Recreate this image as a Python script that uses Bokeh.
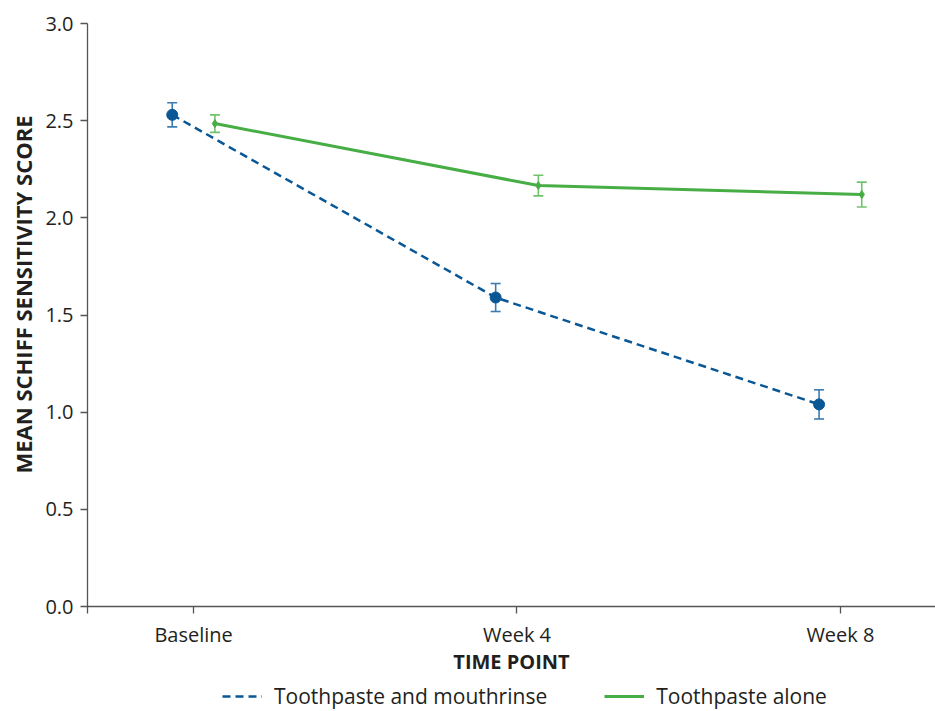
from bokeh.plotting import figure
from bokeh.models import (Range1d, FixedTicker, Whisker, ColumnDataSource, Legend,
                          LegendItem, TeeHead, NumeralTickFormatter, Title)
from bokeh.embed import file_html
from bokeh.resources import INLINE

categories = ["Baseline", "Week 4", "Week 8"]
series_names = ["Toothpaste and mouthrinse", "Toothpaste alone"]
mouthrinse_mean = [2.53, 1.59, 1.04]
mouthrinse_err = [0.062, 0.072, 0.075]
alone_mean = [2.485, 2.166, 2.12]
alone_err = [0.045, 0.053, 0.064]
y_ticks = [0.0, 0.5, 1.0, 1.5, 2.0, 2.5, 3.0]
x_title = "TIME POINT"
y_title = "MEAN SCHIFF SENSITIVITY SCORE"

BLUE = "#0a5796"
BLUE_ERR = "#3d7bb0"
GREEN = "#47ad45"
GREEN_ERR = "#72c26c"
TEXT = "#231f20"
AXIS = "#555555"
FONT = "Open Sans"

offset = 0.066
idx = list(range(len(categories)))

def make_src(means, errs, shift):
    return ColumnDataSource(dict(
        x=[i + shift for i in idx],
        y=means,
        upper=[m + e for m, e in zip(means, errs)],
        lower=[m - e for m, e in zip(means, errs)],
    ))

src_a = make_src(mouthrinse_mean, mouthrinse_err, -offset)
src_b = make_src(alone_mean, alone_err, offset)

# layout: plotting area (0..3) is 583 px tall; frame extends below it
# so that the x axis (fixed at y=0), its labels and the legend fit inside.
plot_h = 583
frame_h = 687
px_per_unit = plot_h / 3.0
y_min = 3.0 - frame_h / px_per_unit

p = figure(frame_width=848, frame_height=frame_h,
           x_range=Range1d(-0.328, 2.294), y_range=Range1d(y_min, 3.0),
           output_backend="svg", toolbar_location=None,
           min_border_left=87, min_border_top=23, min_border_right=0,
           min_border_bottom=0)
p.outline_line_color = None
p.xgrid.grid_line_color = None
p.ygrid.grid_line_color = None
p.background_fill_color = "white"

# axes
p.xaxis.fixed_location = 0
p.xaxis.ticker = FixedTicker(ticks=idx)
p.xaxis.major_label_overrides = {i: c for i, c in zip(idx, categories)}
p.yaxis.ticker = FixedTicker(ticks=y_ticks)
p.yaxis.formatter = NumeralTickFormatter(format="0.0")
p.yaxis.bounds = (-7 / px_per_unit, 3.0)
for ax in (p.xaxis[0], p.yaxis[0]):
    ax.axis_line_color = AXIS
    ax.axis_line_width = 1.3
    ax.major_tick_line_color = AXIS
    ax.major_tick_line_width = 1.3
    ax.major_tick_in = 0
    ax.major_tick_out = 7
    ax.minor_tick_line_color = None
    ax.major_label_text_font = FONT
    ax.major_label_text_font_size = "20px"
    ax.major_label_text_color = TEXT
    ax.axis_label_text_font = FONT
    ax.axis_label_text_font_style = "bold"
    ax.axis_label_text_color = TEXT
    ax.major_label_standoff = 7
p.xaxis.axis_label = x_title
p.xaxis.axis_label_text_font_size = "20px"
p.xaxis.axis_label_standoff = -3

# y axis title, positioned along the 0..3 part of the axis
ytitle = Title(text=y_title, align="right", offset=92, standoff=10,
               text_font=FONT, text_font_size="22px", text_font_style="bold",
               text_color=TEXT)
p.add_layout(ytitle, "left")

# lines
r_a = p.line("x", "y", source=src_a, line_color=BLUE, line_width=2.5, line_dash="8 5")
r_b = p.line("x", "y", source=src_b, line_color=GREEN, line_width=3)

# error bars
p.add_layout(Whisker(source=src_a, base="x", upper="upper", lower="lower",
                     line_color=BLUE_ERR, line_width=1.6,
                     upper_head=TeeHead(size=10, line_color=BLUE_ERR, line_width=1.6),
                     lower_head=TeeHead(size=10, line_color=BLUE_ERR, line_width=1.6)))
p.add_layout(Whisker(source=src_b, base="x", upper="upper", lower="lower",
                     line_color=GREEN_ERR, line_width=1.6,
                     upper_head=TeeHead(size=10, line_color=GREEN_ERR, line_width=1.6),
                     lower_head=TeeHead(size=10, line_color=GREEN_ERR, line_width=1.6)))

# markers
p.scatter("x", "y", source=src_a, size=11, color=BLUE)
p.scatter("x", "y", source=src_b, size=8, marker="diamond", color=GREEN)

legend = Legend(items=[LegendItem(label=series_names[0], renderers=[r_a]),
                       LegendItem(label=series_names[1], renderers=[r_b])],
                orientation="horizontal", location=(135, 0))
legend.border_line_color = None
legend.background_fill_alpha = 0
legend.label_text_font = FONT
legend.label_text_font_size = "21px"
legend.label_text_color = TEXT
legend.label_height = 20
legend.glyph_height = 20
legend.glyph_width = 40
legend.label_standoff = 12
legend.spacing = 57
legend.padding = 0
legend.margin = 0
p.add_layout(legend, "center")

open("out.html", "w").write(file_html(p, INLINE))
